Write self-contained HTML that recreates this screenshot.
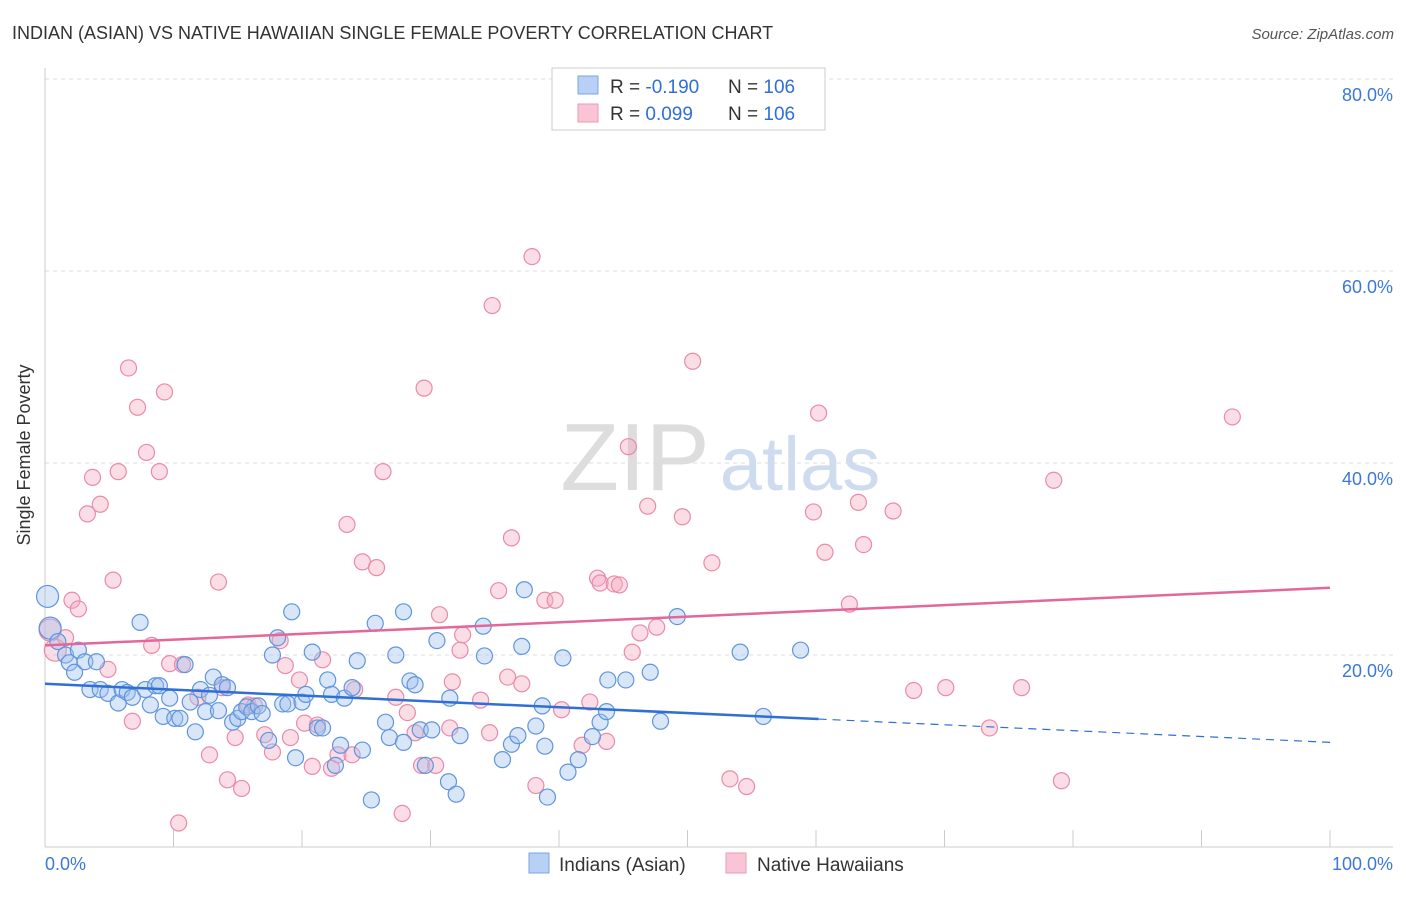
<!DOCTYPE html>
<html><head><meta charset="utf-8">
<style>
body{margin:0;background:#fff;font-family:"Liberation Sans",sans-serif;}
svg text{font-family:"Liberation Sans",sans-serif;}
</style></head>
<body>
<svg id="chart" width="1406" height="892" viewBox="0 0 1406 892" xmlns="http://www.w3.org/2000/svg">
<text x="12" y="39" font-size="18" fill="#333">INDIAN (ASIAN) VS NATIVE HAWAIIAN SINGLE FEMALE POVERTY CORRELATION CHART</text>
<text x="1394" y="39" font-size="15" fill="#555" font-style="italic" text-anchor="end">Source: ZipAtlas.com</text>
<g>
<text x="635" y="490" font-size="96" fill="#ddd" font-family="Liberation Serif" text-anchor="middle">ZIP</text>
<text x="800" y="490" font-size="76" fill="#cfdcef" text-anchor="middle">atlas</text>
</g>
<g id="grid"></g>
<g id="axes"></g>
<g id="pts"></g>
<g id="trends"></g>
<text x="30" y="455" font-size="18" fill="#333" text-anchor="middle" transform="rotate(-90 30 455)">Single Female Poverty</text>
<g>
<rect x="552" y="68" width="273" height="62" fill="#fff" stroke="#ccc"/>
<rect x="578" y="76" width="20" height="18" fill="#b7d0f4" stroke="#7aa6e4"/>
<rect x="578" y="104" width="20" height="18" fill="#f9c4d4" stroke="#eb9ab6"/>
<text x="610" y="93" font-size="19" fill="#333">R = <tspan fill="#2f6fd6">-0.190</tspan></text>
<text x="728" y="93" font-size="19" fill="#333">N = <tspan fill="#2f6fd6">106</tspan></text>
<text x="610" y="120" font-size="19" fill="#333">R = <tspan fill="#2f6fd6"> 0.099</tspan></text>
<text x="728" y="120" font-size="19" fill="#333">N = <tspan fill="#2f6fd6">106</tspan></text>
</g>
<g>
<rect x="529" y="853" width="20" height="20" fill="#b7d0f4" stroke="#7aa6e4"/>
<text x="559" y="871" font-size="19" fill="#333">Indians (Asian)</text>
<rect x="726" y="853" width="20" height="20" fill="#f9c4d4" stroke="#eb9ab6"/>
<text x="757" y="871" font-size="19" fill="#333">Native Hawaiians</text>
</g>
</svg>
<script>
const xTicks=[0,10,20,30,40,50,60,70,80,90,100];
const yTicks=[20,40,60,80];
const yTickLabels=["20.0%","40.0%","60.0%","80.0%"];
const xEndLabels=["0.0%","100.0%"];
const blueX=[0.2,0.4,1.0,1.6,1.9,2.3,2.6,3.1,3.5,4.0,4.3,4.9,5.7,6.0,6.4,6.8,7.4,7.8,8.2,8.6,8.9,9.2,9.7,10.1,10.5,10.9,11.3,11.7,12.1,12.5,12.8,13.1,13.5,13.8,14.2,14.6,15.0,15.3,15.7,16.1,16.6,16.9,17.4,17.7,18.1,18.5,18.9,19.2,19.5,20.0,20.3,20.8,21.2,21.6,22.0,22.3,22.6,23.0,23.3,23.9,24.3,24.7,25.4,25.7,26.5,26.8,27.3,27.9,27.9,28.4,28.8,29.2,29.6,30.1,30.5,31.4,31.5,32.0,32.3,34.1,34.2,35.6,36.3,36.8,37.1,37.3,38.2,38.7,38.9,39.1,40.3,40.7,41.5,42.6,43.2,43.7,43.8,45.2,47.1,47.9,49.2,54.1,55.9,58.8];
const blueY=[26.1,22.8,21.4,20.0,19.2,18.2,20.5,19.3,16.4,19.3,16.4,16.0,15.0,16.4,16.1,15.6,23.4,16.4,14.8,16.8,16.8,13.6,15.5,13.4,13.4,19.0,15.1,12.0,16.4,14.1,15.8,17.7,14.2,16.9,16.6,13.0,13.4,14.1,14.6,14.1,14.7,13.9,11.1,20.0,21.8,14.9,14.9,24.5,9.3,15.1,15.9,20.3,12.4,12.4,17.4,15.9,8.5,10.6,15.5,16.6,19.4,10.1,4.9,23.3,13.0,11.4,20.0,24.5,10.9,17.3,16.9,12.2,8.5,12.2,21.5,6.8,15.5,5.5,11.6,23.0,19.9,9.1,10.7,11.6,20.9,26.8,12.6,14.7,10.5,5.2,19.7,7.8,9.1,11.5,13.0,14.1,17.4,17.4,18.2,13.1,24.0,20.3,13.6,20.5];
const pinkX=[0.4,0.8,1.6,2.1,2.6,3.3,3.7,4.3,4.9,5.3,5.7,6.5,6.8,7.2,7.9,8.3,8.9,9.3,9.7,10.4,10.7,11.9,12.8,13.5,13.8,14.2,14.8,15.3,15.8,16.3,17.1,17.7,18.3,18.7,19.1,19.8,20.2,20.8,21.2,21.6,22.3,22.8,23.5,23.9,24.1,24.7,25.8,26.3,27.3,27.8,28.2,28.8,29.3,29.5,30.4,30.7,31.5,31.7,32.3,32.5,33.9,34.6,34.8,35.3,36.0,36.3,37.1,37.9,38.2,38.9,39.7,40.2,41.8,42.4,43.0,43.2,43.7,44.3,44.7,45.4,45.7,46.3,46.9,47.6,49.6,50.4,51.9,53.3,54.6,59.8,60.2,60.7,62.6,63.3,63.7,66.0,67.6,70.1,73.5,76.0,78.5,79.1,92.4];
const pinkY=[22.6,20.5,21.8,25.7,24.8,34.7,38.5,35.7,18.5,27.8,39.1,49.9,13.1,45.8,41.1,21.0,39.1,47.4,19.1,2.5,19.0,15.6,9.6,27.6,16.6,7.0,11.4,6.1,14.8,14.7,11.7,9.9,21.5,18.9,11.4,17.4,12.9,8.4,12.7,19.5,8.2,9.6,33.6,9.6,16.4,29.7,29.1,39.1,15.6,3.5,14.0,11.9,8.5,47.8,8.5,24.2,12.4,17.2,20.5,22.1,15.3,11.9,56.4,26.7,17.7,32.2,17.0,61.5,6.4,25.7,25.7,14.3,10.6,15.1,28.0,27.5,11.0,27.4,27.3,41.7,20.3,22.3,35.5,22.9,34.4,50.6,29.6,7.1,6.3,34.9,45.2,30.7,25.3,35.9,31.5,35.0,16.3,16.6,12.4,16.6,38.2,6.9,44.8];
const blueTrend=[17.0,10.9]; // values at x=0 and x=100
const pinkTrend=[21.0,27.0];
const blueSolidEnd=[60.2];

const NS="http://www.w3.org/2000/svg";
const X=v=>45+v*12.85, Y=v=>847-v*9.6;
function mk(tag,attrs,parent){const e=document.createElementNS(NS,tag);for(const k in attrs)e.setAttribute(k,attrs[k]);parent.appendChild(e);return e;}
const grid=document.getElementById('grid'),axes=document.getElementById('axes'),pts=document.getElementById('pts'),tr=document.getElementById('trends');
yTicks.forEach((t,i)=>{
 const l=mk('line',{x1:45,x2:1393,y1:Y(t),y2:Y(t),stroke:'#ddd','stroke-dasharray':'4,4'},grid);
 
 
 const tx=mk('text',{x:1393,y:Y(t)+22,'font-size':18,fill:'#3b78d8','text-anchor':'end'},axes);
 tx.textContent=yTickLabels[i];
 
 
});
mk('line',{x1:45,x2:45,y1:68,y2:847,stroke:'#ccc'},axes);
mk('line',{x1:45,x2:1393,y1:847,y2:847,stroke:'#ccc'},axes);
xTicks.forEach(t=>{
 const l=mk('line',{x1:X(t),x2:X(t),y1:830,y2:847,stroke:'#ccc'},axes);
 
 
});
[[45,'start',0],[1393,'end',1]].forEach(a=>{
 const tx=mk('text',{x:a[0],y:870,'font-size':18,fill:'#3b78d8','text-anchor':a[1]},axes);
 tx.textContent=xEndLabels[a[2]];
 
 
});
function plot(xs,ys,fill,stroke,name){
 xs.forEach((x,i)=>{
  const big=(i===0||i===1)&&x<1;
  const c=mk('circle',{cx:X(x),cy:Y(ys[i]),r:big?11:8,fill:fill,'fill-opacity':0.4,stroke:stroke,'stroke-width':1.2},pts);
  
  
 });
}
plot(pinkX,pinkY,'#f4a9c0','#e98aac','point-native-hawaiian');
plot(blueX,blueY,'#9fc1ee','#5f95dd','point-indian-asian');
const bAt=x=>blueTrend[0]+(blueTrend[1]-blueTrend[0])*x/100;
let l=mk('line',{x1:X(0),y1:Y(bAt(0)),x2:X(blueSolidEnd[0]),y2:Y(bAt(blueSolidEnd[0])),stroke:'#2f6fd6','stroke-width':2.5},tr);


l=mk('line',{x1:X(blueSolidEnd[0]),y1:Y(bAt(blueSolidEnd[0])),x2:X(100),y2:Y(bAt(100)),stroke:'#2f6fd6','stroke-width':1.2,'stroke-dasharray':'8,6'},tr);


l=mk('line',{x1:X(0),y1:Y(pinkTrend[0]),x2:X(100),y2:Y(pinkTrend[1]),stroke:'#e4679a','stroke-width':2.5},tr);


</script>
</body></html>
